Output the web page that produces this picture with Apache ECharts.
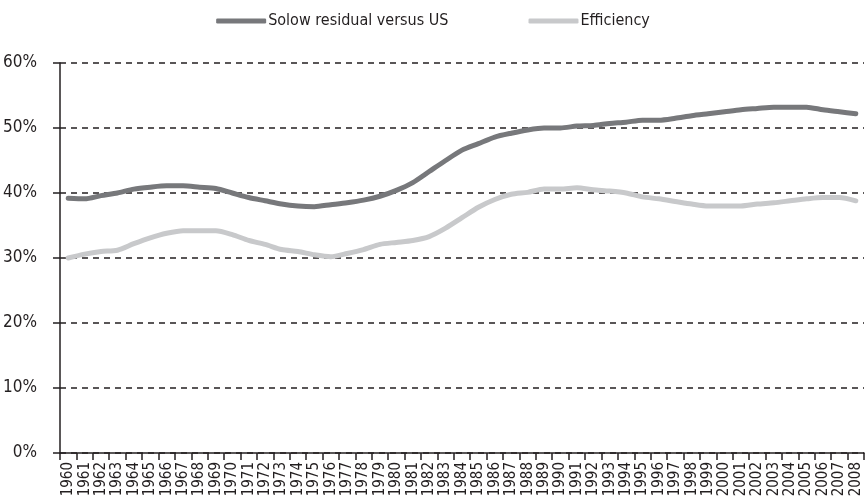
<!DOCTYPE html>
<html>
<head>
<meta charset="utf-8">
<script src="https://cdn.jsdelivr.net/npm/echarts@6/dist/echarts.min.js"></script>
<style>
  html, body { margin: 0; padding: 0; background: #fff; }
  #chart { width: 866px; height: 501px; }
</style>
</head>
<body>
<div id="chart"></div>
<script>
// Years on the category axis
const years = [];
for (let y = 1960; y <= 2008; y++) years.push(String(y));

// Solow residual relative to the US (%)
const solowResidual = [
  39.2, 39.1, 39.6, 40.0, 40.6, 40.9, 41.1, 41.1, 40.9, 40.7,
  40.0, 39.3, 38.8, 38.3, 38.0, 37.9, 38.2, 38.5, 38.9, 39.5,
  40.4, 41.6, 43.3, 45.0, 46.6, 47.6, 48.6, 49.2, 49.7, 50.0,
  50.0, 50.3, 50.4, 50.7, 50.9, 51.2, 51.2, 51.5, 51.9, 52.2,
  52.5, 52.8, 53.0, 53.2, 53.2, 53.2, 52.8, 52.5, 52.2
];

// Efficiency (%)
const efficiency = [
  30.0, 30.6, 31.0, 31.2, 32.2, 33.1, 33.8, 34.2, 34.2, 34.2,
  33.6, 32.7, 32.1, 31.3, 31.0, 30.5, 30.2, 30.7, 31.3, 32.1,
  32.4, 32.7, 33.3, 34.6, 36.2, 37.8, 39.0, 39.8, 40.1, 40.6,
  40.6, 40.8, 40.5, 40.3, 40.0, 39.4, 39.1, 38.7, 38.3, 38.0,
  38.0, 38.0, 38.3, 38.5, 38.8, 39.1, 39.3, 39.3, 38.8
];

const seriesNames = ['Solow residual versus US', 'Efficiency'];
const seriesColors = ['#77787b', '#c8c9cb'];

const FONT = '"DejaVu Sans Condensed", "Liberation Sans Narrow", "Roboto", sans-serif';

const chart = echarts.init(document.getElementById('chart'), null, { renderer: 'canvas' });

chart.setOption({
  backgroundColor: '#ffffff',
  animation: false,
  textStyle: { fontFamily: FONT, color: '#231f20' },
  legend: {
    top: 8,
    left: 'center',
    itemWidth: 50,
    itemHeight: 5,
    itemGap: 80,
    icon: 'roundRect',
    textStyle: { fontFamily: FONT, fontSize: 16, color: '#231f20', padding: [0, 0, 0, -3] },
    data: seriesNames
  },
  grid: { left: 60, right: 2, top: 63, bottom: 48, containLabel: false },
  xAxis: {
    type: 'category',
    data: years,
    boundaryGap: true,
    axisLine: { lineStyle: { color: '#231f20', width: 1.5 } },
    axisTick: { show: true, interval: 0, length: 7, lineStyle: { color: '#231f20', width: 1.5 } },
    axisLabel: {
      interval: 0,
      rotate: 90,
      margin: 9,
      fontFamily: FONT,
      fontSize: 15,
      color: '#231f20'
    }
  },
  yAxis: {
    type: 'value',
    min: 0,
    max: 60,
    interval: 10,
    axisLine: { show: true, lineStyle: { color: '#231f20', width: 1.5 } },
    axisTick: { show: true, length: 7, lineStyle: { color: '#231f20', width: 1.5 } },
    axisLabel: {
      formatter: '{value}%',
      margin: 23,
      fontFamily: FONT,
      fontSize: 17,
      color: '#231f20'
    },
    splitLine: {
      show: true,
      lineStyle: { color: '#231f20', width: 1.5, type: [6, 5] }
    }
  },
  series: [
    {
      name: seriesNames[0],
      type: 'line',
      data: solowResidual,
      symbol: 'none',
      smooth: 0.25,
      color: seriesColors[0],
      lineStyle: { width: 5, color: seriesColors[0], cap: 'round', join: 'round' },
      z: 3
    },
    {
      name: seriesNames[1],
      type: 'line',
      data: efficiency,
      symbol: 'none',
      smooth: 0.25,
      color: seriesColors[1],
      lineStyle: { width: 5, color: seriesColors[1], cap: 'round', join: 'round' },
      z: 2
    }
  ]
});
</script>
</body>
</html>
